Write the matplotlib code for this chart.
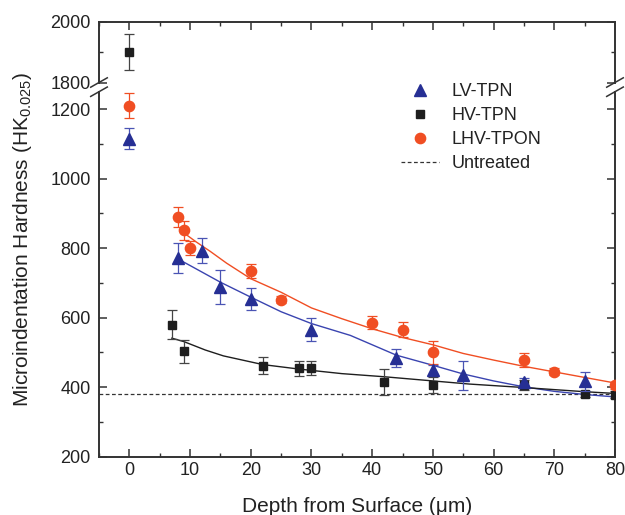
import matplotlib
matplotlib.use("Agg")
import matplotlib.pyplot as plt
from matplotlib.lines import Line2D
from matplotlib.ticker import MultipleLocator

plt.rcParams['font.family'] = ['Liberation Sans', 'DejaVu Sans']
plt.rcParams['mathtext.fontset'] = 'custom'
plt.rcParams['mathtext.rm'] = 'Liberation Sans'
plt.rcParams['mathtext.it'] = 'Liberation Sans:italic'

# ---------------- data ----------------
lv_x = [0, 8, 12, 15, 20, 30, 44, 50, 55, 65, 75]
lv_y = [1115, 772, 793, 688, 653, 565, 484, 450, 434, 415, 417]
lv_err = [30, 43, 36, 50, 32, 33, 26, 15, 42, 12, 27]

hv_x = [0, 7, 9, 22, 28, 30, 42, 50, 65, 75, 80]
hv_y = [1900, 580, 503, 462, 454, 454, 414, 405, 406, 381, 378]
hv_err = [60, 42, 32, 25, 22, 20, 37, 23, 15, 8, 10]

lhv_x = [0, 8, 9, 10, 20, 25, 40, 45, 50, 65, 70, 80]
lhv_y = [1210, 890, 851, 801, 733, 651, 586, 565, 500, 479, 444, 405]
lhv_err = [35, 28, 28, 20, 20, 10, 20, 22, 32, 20, 10, 10]

# fitted curves
lv_fit_x = [8, 10, 15, 20, 25, 30, 36.4, 44, 50, 55, 60, 65, 70, 75, 80]
lv_fit_y = [769, 750, 702, 659, 617, 583, 549, 492, 463, 438, 418, 401, 388, 379, 372]
hv_fit_x = [7, 9, 12.5, 15.5, 22, 28, 35, 42, 50, 56, 65, 75, 80]
hv_fit_y = [541, 531, 507, 490, 465, 452, 439, 430, 418, 409, 399, 387, 382]
lhv_fit_x = [9.2, 11, 13.3, 16, 20, 25, 30, 35, 40, 45, 50, 55, 60, 65, 70, 75, 80]
lhv_fit_y = [841, 818, 791, 757, 712, 673, 628, 597, 568, 543, 522, 497, 478, 460, 444, 428, 412]

untreated = 380

labels = ['LV-TPN', 'HV-TPN', 'LHV-TPON', 'Untreated']

# ---------------- style ----------------
c_lv = '#262f94'
c_lv_line = '#3a44b0'
c_hv = '#1e1e1e'
c_lhv = '#f04e23'
spine_c = '#333333'

fig = plt.figure(figsize=(6.25, 5.15), dpi=100)
ax_lo = fig.add_axes([0.1584, 0.1132, 0.8256, 0.7087])
ax_hi = fig.add_axes([0.1584, 0.8398, 0.8256, 0.1175], sharex=ax_lo)

for ax in (ax_lo, ax_hi):
    ax.plot(lhv_fit_x, lhv_fit_y, color=c_lhv, lw=1.0, zorder=2)
    ax.plot(lv_fit_x, lv_fit_y, color=c_lv_line, lw=1.0, zorder=2)
    ax.plot(hv_fit_x, hv_fit_y, color=c_hv, lw=1.0, zorder=2)
    ax.axhline(untreated, color='#333333', lw=0.9, ls=(0, (3, 2)), zorder=1)
    ax.errorbar(hv_x, hv_y, yerr=hv_err, fmt='s', ms=6.3, color=c_hv,
                ecolor='#444444', elinewidth=0.9, capsize=3.3, capthick=0.9, zorder=3)
    ax.errorbar(lhv_x, lhv_y, yerr=lhv_err, fmt='o', ms=7.4, color=c_lhv,
                ecolor=c_lhv, elinewidth=0.9, capsize=3.3, capthick=0.9, zorder=4)
    ax.errorbar(lv_x, lv_y, yerr=lv_err, fmt='^', ms=8.2, color=c_lv,
                ecolor='#4a54b4', elinewidth=0.9, capsize=3.3, capthick=0.9, zorder=5)
    for s in ax.spines.values():
        s.set_linewidth(1.4)
        s.set_color(spine_c)
    ax.tick_params(which='both', direction='in', color=spine_c, labelsize=13,
                   labelcolor='#222222', right=True)
    ax.tick_params(which='major', length=5.5, width=1.1)
    ax.tick_params(which='minor', length=3.2, width=1.0)
    ax.tick_params(axis='y', pad=6)
    ax.tick_params(axis='x', pad=4)

ax_lo.set_xlim(-5, 80)
ax_lo.set_ylim(200, 1250)
ax_hi.set_ylim(1800, 2000)

ax_lo.xaxis.set_major_locator(MultipleLocator(10))
ax_lo.xaxis.set_minor_locator(MultipleLocator(5))
ax_lo.yaxis.set_major_locator(MultipleLocator(200))
ax_lo.yaxis.set_minor_locator(MultipleLocator(100))
ax_hi.yaxis.set_major_locator(MultipleLocator(200))
ax_hi.yaxis.set_minor_locator(MultipleLocator(100))

ax_lo.spines['top'].set_visible(False)
ax_lo.tick_params(which='both', top=False, bottom=True)
ax_hi.spines['bottom'].set_visible(False)
ax_hi.tick_params(which='both', bottom=False, labelbottom=False, top=True)

# break marks on both vertical spines
W, H = 625.0, 515.0
lo_top = ax_lo.get_position().y1
hi_bot = ax_hi.get_position().y0
for xs in (ax_lo.get_position().x0, ax_lo.get_position().x1):
    for yc in (hi_bot, lo_top):
        fig.add_artist(Line2D([xs - 8.3 / W, xs + 8.3 / W], [yc - 4.7 / H, yc + 4.7 / H],
                              transform=fig.transFigure, color=spine_c, lw=1.1))

fig.text(357 / W, 3.0 / H, 'Depth from Surface (\u03bcm)', ha='center', va='baseline',
         fontsize=15, color='#222222')
fig.text(23 / W, 1 - 240 / H, 'Microindentation Hardness (HK$_{\\mathrm{0.025}}$)',
         rotation=90, ha='center', va='center', fontsize=15, color='#222222')

handles = [
    Line2D([], [], marker='^', ls='none', color=c_lv, ms=8.2),
    Line2D([], [], marker='s', ls='none', color=c_hv, ms=6.3),
    Line2D([], [], marker='o', ls='none', color=c_lhv, ms=7.4),
    Line2D([], [], color='#333333', lw=0.9, ls=(0, (3, 2))),
]
fig.legend(handles, labels, loc='upper left', bbox_to_anchor=(401 / W, 1 - 83 / H),
           frameon=False, borderpad=0, borderaxespad=0, handlelength=2.1,
           handletextpad=0.7, labelspacing=0.39, fontsize=13, labelcolor='#222222')

fig.savefig('out.png', dpi=100)
